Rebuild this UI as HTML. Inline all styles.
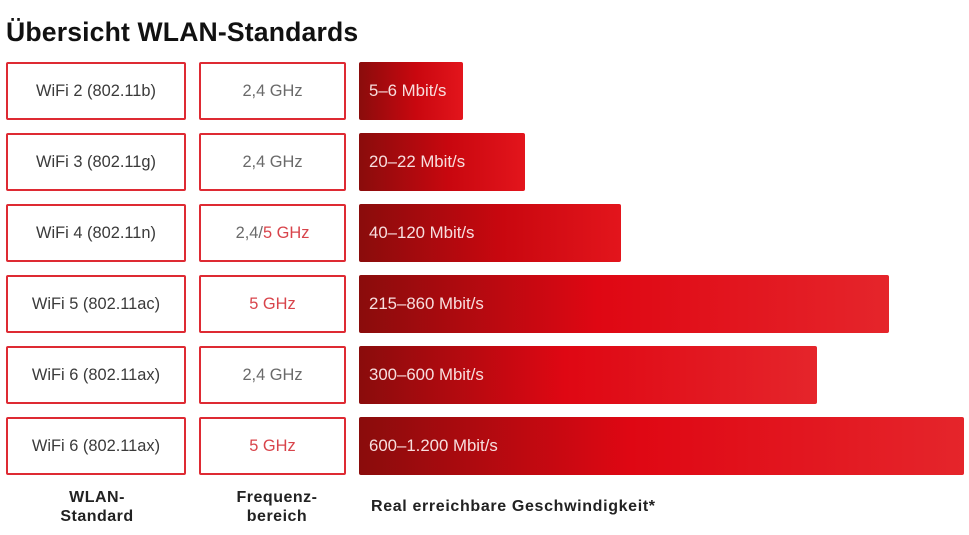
<!DOCTYPE html>
<html><head><meta charset="utf-8"><style>
html,body{margin:0;padding:0;background:#fff;}
body{width:969px;height:535px;position:relative;overflow:hidden;font-family:"Liberation Sans",Arial,sans-serif;}
.t{position:absolute;left:6px;top:14px;font-size:26.6px;font-weight:bold;color:#111;letter-spacing:0.15px;line-height:36px;}
.b{position:absolute;box-sizing:border-box;height:58px;border:2.6px solid #de2a33;border-radius:2px;display:flex;align-items:center;justify-content:center;font-size:16.4px;color:#3a3a3a;}
.c1{left:6px;width:180px;}
.c2{left:199px;width:147px;color:#6a6a6a;}
.red{color:#d8444b;}
.bar{position:absolute;left:359px;height:58px;border-radius:2px;box-sizing:border-box;padding-left:10px;display:flex;align-items:center;font-size:16.8px;color:#f7dede;
background:linear-gradient(90deg,#8a0c0c 0%,#df0713 45%,#e5252b 100%);}
.s{background:linear-gradient(90deg,#8a0c0c 0%,#c9070f 55%,#e3151c 100%);}
.f{position:absolute;font-weight:bold;font-size:16px;color:#222;text-align:center;line-height:19px;letter-spacing:0.5px;}
</style></head><body>
<div class="t">Übersicht WLAN-Standards</div>

<div class="b c1" style="top:62px">WiFi 2 (802.11b)</div>
<div class="b c2" style="top:62px">2,4 GHz</div>
<div class="bar s" style="top:62px;width:104px">5–6 Mbit/s</div>

<div class="b c1" style="top:133px">WiFi 3 (802.11g)</div>
<div class="b c2" style="top:133px">2,4 GHz</div>
<div class="bar s" style="top:133px;width:166px">20–22 Mbit/s</div>

<div class="b c1" style="top:204px">WiFi 4 (802.11n)</div>
<div class="b c2" style="top:204px">2,4/<span class="red">5 GHz</span></div>
<div class="bar s" style="top:204px;width:262px">40–120 Mbit/s</div>

<div class="b c1" style="top:275px">WiFi 5 (802.11ac)</div>
<div class="b c2 red" style="top:275px">5 GHz</div>
<div class="bar" style="top:275px;width:530px">215–860 Mbit/s</div>

<div class="b c1" style="top:346px">WiFi 6 (802.11ax)</div>
<div class="b c2" style="top:346px">2,4 GHz</div>
<div class="bar" style="top:346px;width:458px">300–600 Mbit/s</div>

<div class="b c1" style="top:417px">WiFi 6 (802.11ax)</div>
<div class="b c2 red" style="top:417px">5 GHz</div>
<div class="bar" style="top:417px;width:605px">600–1.200 Mbit/s</div>

<div class="f" style="left:36px;width:122px;top:488px">WLAN-<br>Standard</div>
<div class="f" style="left:216px;width:122px;top:488px">Frequenz-<br>bereich</div>
<div class="f" style="left:371px;top:497px;text-align:left;white-space:nowrap;letter-spacing:0.65px">Real erreichbare Geschwindigkeit*</div>
</body></html>
